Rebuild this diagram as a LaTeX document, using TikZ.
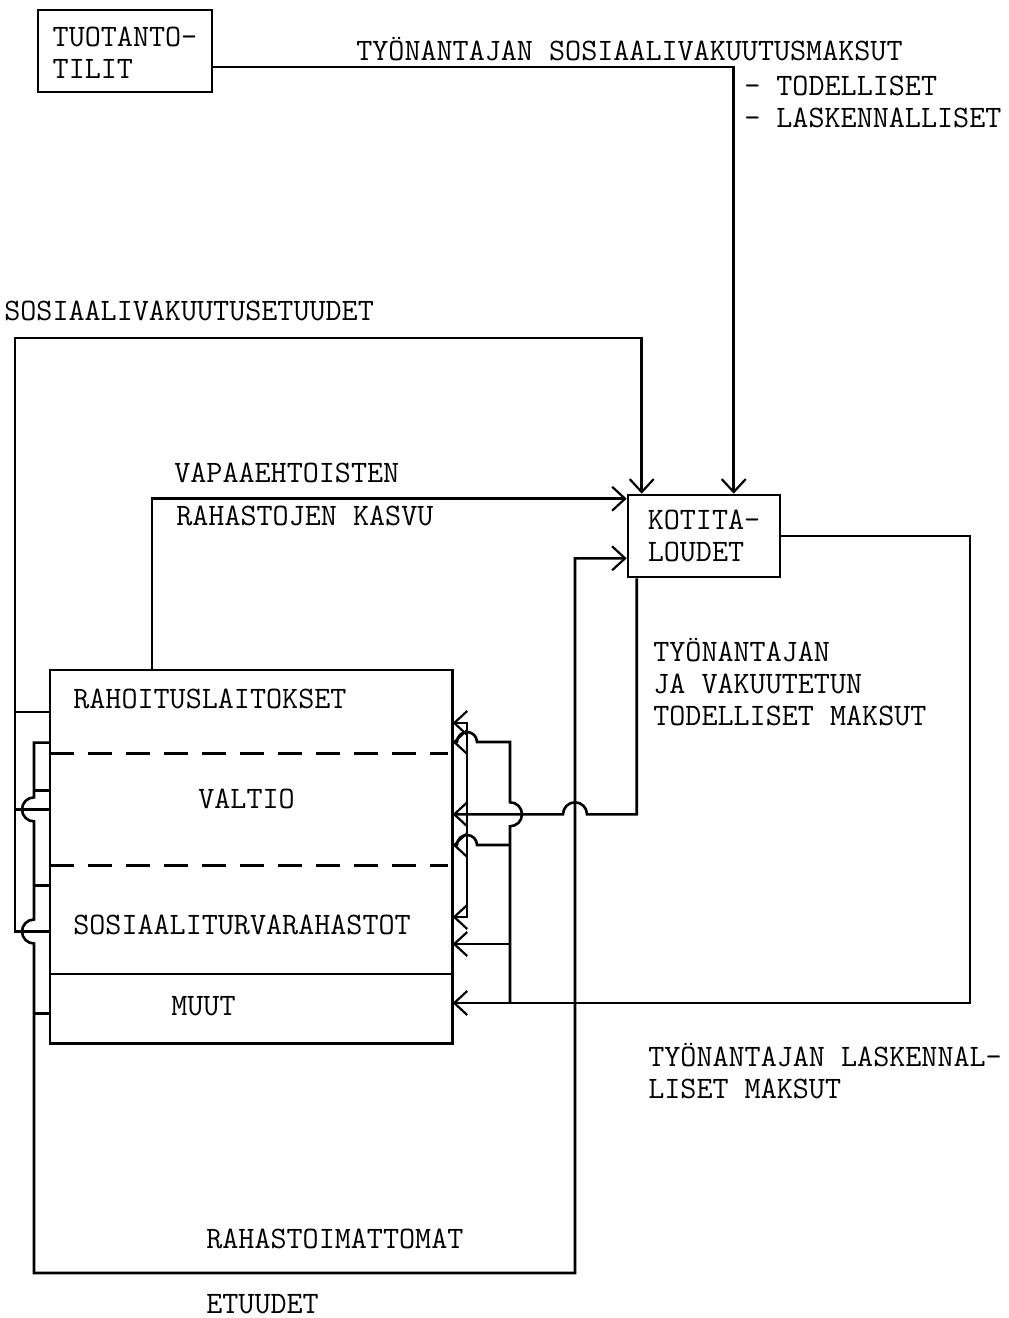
\documentclass[tikz,border=0pt]{standalone}
\usepackage{fontspec}
\usepackage{tikz}
\usetikzlibrary{arrows.meta,calc,positioning}

\tikzset{
  barb/.tip={Straight Barb[length=6.5pt,width=12pt,line width=1.1pt]},
  flow/.style={-barb},
  txt/.style={font=\ttfamily\fontsize{15.6pt}{15.8pt}\selectfont},
  lbl/.style={txt, anchor=base west, inner sep=0pt},
  box/.style={draw, txt, align=left, inner sep=0pt},
  part/.style={draw=none, inner sep=0pt, minimum width=200pt, anchor=north west},
}

\begin{document}
\begin{tikzpicture}[x=0.5pt, y=-0.5pt, line width=1.3pt]
        \useasboundingbox (0,0) rectangle (1008,1318);

        \node[box, minimum width=87pt, minimum height=41pt, text height=27.5pt, text depth=0pt] (tuot) at (125,51) {TUOTANTO-\\TILIT};
        \node[box, minimum width=76pt, minimum height=41pt] (koti) at (704,536) {KOTITA-\\LOUDET};

        \node[part, minimum height=40.5pt] (rah) at (50,670) {};
        \node[part, minimum height=54.5pt, below=0pt of rah] (valt) {};
        \node[part, minimum height=53pt, below=0pt of valt] (sos) {};
        \node[part, minimum height=33.5pt, below=0pt of sos] (muut) {};
        \draw (rah.north west) rectangle (muut.south east);
        \draw[dash pattern=on 12pt off 7pt] (rah.south west) -- ($(rah.south east)+(-5,0)$);
        \draw[dash pattern=on 12pt off 7pt] (valt.south west) -- ($(valt.south east)+(-5,0)$);
        \draw (sos.south west) -- (sos.south east);

        \node[lbl] (nRah) at (72,708) {RAHOITUSLAITOKSET};
        \node[lbl] (nValt) at (197,808) {VALTIO};
        \node[lbl] (nSos) at (72,934) {SOSIAALITURVARAHASTOT};
        \node[lbl] (nMuut) at (170,1015) {MUUT};

        \node[lbl] (tyoA) at (355,60) {TYÖNANTAJAN SOSIAALIVAKUUTUSMAKSUT};
        \node[lbl] (tyoB) at (743,95) {- TODELLISET};
        \node[lbl] (tyoC) at (743,127) {- LASKENNALLISET};
        \node[lbl] (etu) at (3,320) {SOSIAALIVAKUUTUSETUUDET};
        \node[lbl] (vapA) at (173,482) {VAPAAEHTOISTEN};
        \node[lbl] (vapB) at (175,525) {RAHASTOJEN KASVU};
        \node[lbl] (todA) at (652,661) {TYÖNANTAJAN};
        \node[lbl] (todB) at (652,693) {JA VAKUUTETUN};
        \node[lbl] (todC) at (652,725) {TODELLISET MAKSUT};
        \node[lbl] (lasA) at (647,1066) {TYÖNANTAJAN LASKENNAL-};
        \node[lbl] (lasB) at (647,1098) {LISET MAKSUT};
        \node[lbl] (rmA) at (205,1248) {RAHASTOIMATTOMAT};
        \node[lbl] (rmB) at (205,1313) {ETUUDET};

        \coordinate (etuA) at (15,338);
        \coordinate (rmL) at (34,1273);
        \coordinate (rmR) at (575,1273);
        \coordinate (todM) at ($(koti.south west)+(10,236)$);
        \coordinate (jmpM) at (rmR |- todM);
        \coordinate (lasR) at (970,1003);
        \coordinate (lasV) at (510,1003);
        \coordinate (ringR) at (467,917);

        \draw[flow] ($(tuot.east)+(0,16)$) -| ($(koti.north west)+(107,0)$);

        \draw[flow] ($(sos.west)+(0,12)$) -| (etuA) -| ($(koti.north west)+(15,0)$);
        \draw (rah.west) -- (rah.west -| etuA);
        \draw (valt.west) -- (valt.west -| etuA);

        \draw[flow] ($(rah.south west)+(0,-11)$) -| ($(valt.west)+(-16,-12)$)
            arc[start angle=90, end angle=270, radius=6pt] -- ($(sos.west)+(-16,0)$)
            arc[start angle=90, end angle=270, radius=6pt] -- (rmL) -- (rmR)
            |- ($(koti.south west)+(0,-20)$);
        \draw ($(valt.west)+(0,-19)$) -- ++(-16,0);
        \draw ($(sos.north west)+(0,20)$) -- ++(-16,0);
        \draw ($(muut.west)+(0,5)$) -- ++(-16,0);

        \draw[flow] ($(rah.north west)+(102,0)$) |- ($(koti.north west)+(0,5)$);

        \draw[flow] ($(koti.south west)+(10,0)$) -- (todM) -- ($(jmpM)+(12,0)$)
            arc[start angle=0, end angle=180, radius=6pt] -- (valt.east |- todM);

        \draw[flow] (koti.east) -| (lasR) -- (muut.east |- lasR);
        \draw[flow] (lasV) -- ($(lasV |- todM)+(0,12)$)
            arc[start angle=-90, end angle=90, radius=6pt] -- (lasV |- 0,742)
            -- (477,742) arc[start angle=0, end angle=180, radius=5pt] -- (rah.east |- 0,742);
        \draw[flow] (lasV |- 0,845) -- (477,845)
            arc[start angle=0, end angle=180, radius=5pt] -- (valt.east |- 0,845);
        \draw[flow] (lasV |- 0,944) -- (sos.east |- 0,944);

        \draw[barb-barb] (rah.east |- 0,723) -| (ringR) -- (sos.east |- ringR);
    \end{tikzpicture}
\end{document}
